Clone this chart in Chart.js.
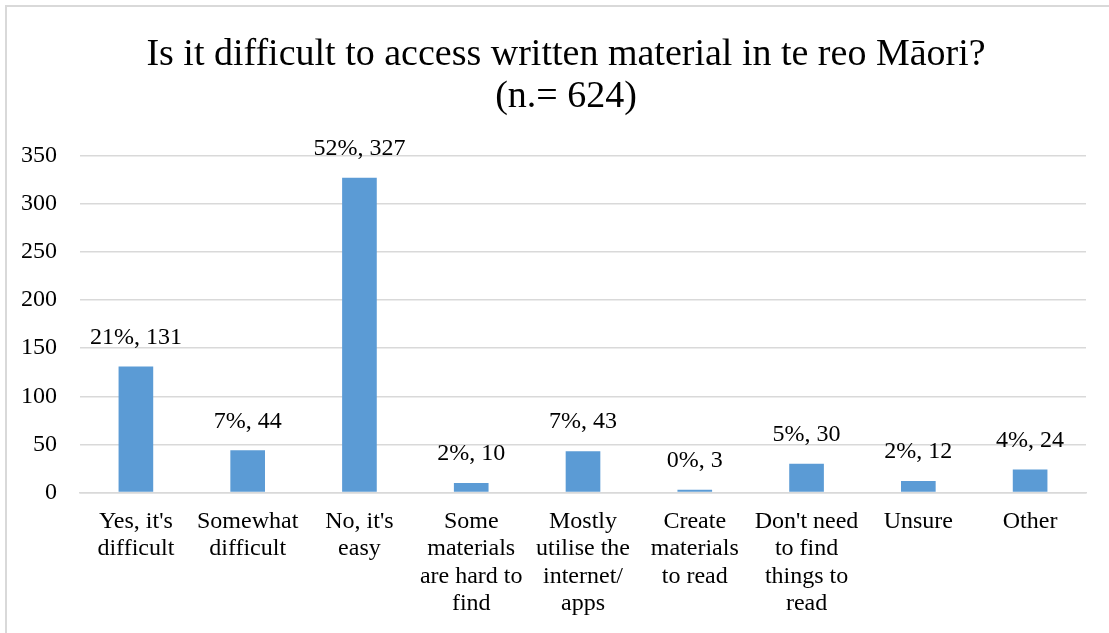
<!DOCTYPE html>
<html>
<head>
<meta charset="utf-8">
<script src="https://cdn.jsdelivr.net/npm/chart.js@4.4.1/dist/chart.umd.min.js"></script>
<style>
  html, body { margin: 0; padding: 0; background: #fff; }
  #wrap { position: relative; width: 1109px; height: 633px; overflow: hidden; }
  #frame { position: absolute; left: 5px; top: 5px; width: 1120px; height: 650px;
           border: 2px solid #d9d9d9; box-sizing: border-box; pointer-events: none; }
  canvas { position: absolute; left: 0; top: 0; }
</style>
</head>
<body>
<div id="wrap">
  <canvas id="chart" width="1109" height="633"></canvas>
  <div id="frame"></div>
</div>
<script>
// survey answers, n = 624
const categories = [
  ["Yes, it's", "difficult"],
  ["Somewhat", "difficult"],
  ["No, it's", "easy"],
  ["Some", "materials", "are hard to", "find"],
  ["Mostly", "utilise the", "internet/", "apps"],
  ["Create", "materials", "to read"],
  ["Don't need", "to find", "things to", "read"],
  ["Unsure"],
  ["Other"]
];
const counts = [131, 44, 327, 10, 43, 3, 30, 12, 24];
const percents = [21, 7, 52, 2, 7, 0, 5, 2, 4];
const yMax = 350;
const yStep = 50;

const serif = '"Liberation Serif", "Times New Roman", serif';

// "xx%, n" above every bar
const valueLabels = {
  id: 'valueLabels',
  afterDatasetsDraw(chart) {
    const ctx = chart.ctx;
    const meta = chart.getDatasetMeta(0);
    ctx.save();
    ctx.font = '24px ' + serif;
    ctx.fillStyle = '#000';
    ctx.textAlign = 'center';
    ctx.textBaseline = 'middle';
    meta.data.forEach((bar, i) => {
      ctx.fillText(percents[i] + '%, ' + counts[i], bar.x, bar.y - 29);
    });
    ctx.restore();
  }
};

// y tick labels hang left of the narrow axis box, so they are painted here
// instead of by the scale (which clips them to its own width)
const yLabels = {
  id: 'yLabels',
  afterDraw(chart) {
    const ctx = chart.ctx;
    const y = chart.scales.y;
    ctx.save();
    ctx.font = '24px ' + serif;
    ctx.fillStyle = '#000';
    ctx.textAlign = 'right';
    ctx.textBaseline = 'middle';
    y.ticks.forEach(t => {
      ctx.fillText(String(t.value), chart.chartArea.left - 23, y.getPixelForValue(t.value));
    });
    ctx.restore();
  }
};

new Chart(document.getElementById('chart'), {
  type: 'bar',
  data: {
    labels: categories,
    datasets: [{
      data: counts,
      backgroundColor: '#5B9BD5',
      categoryPercentage: 1,
      barPercentage: 0.31
    }]
  },
  options: {
    responsive: false,
    animation: false,
    devicePixelRatio: 1,
    layout: { padding: { left: 46, right: 23, top: 0, bottom: 0 } },
    plugins: {
      legend: { display: false },
      tooltip: { enabled: false },
      title: {
        display: true,
        text: ['Is it difficult to access written material in te reo Māori?', '(n.= 624)'],
        color: '#000',
        font: { family: serif, size: 38, weight: 'normal', lineHeight: 1.1 },
        padding: { top: 34, bottom: 38 }
      }
    },
    scales: {
      x: {
        grid: { display: false, drawTicks: false },
        border: { color: '#d9d9d9', width: 1.5 },
        ticks: {
          color: '#000',
          font: { family: serif, size: 24, lineHeight: 1.15 },
          padding: 15,
          maxRotation: 0,
          autoSkip: false
        }
      },
      y: {
        min: 0,
        max: yMax,
        afterFit(scale) { scale.width = 34; },
        grid: { color: '#d9d9d9', lineWidth: 1.5, drawTicks: false },
        border: { display: false },
        ticks: { stepSize: yStep, display: false }
      }
    }
  },
  plugins: [valueLabels, yLabels]
});
</script>
</body>
</html>
